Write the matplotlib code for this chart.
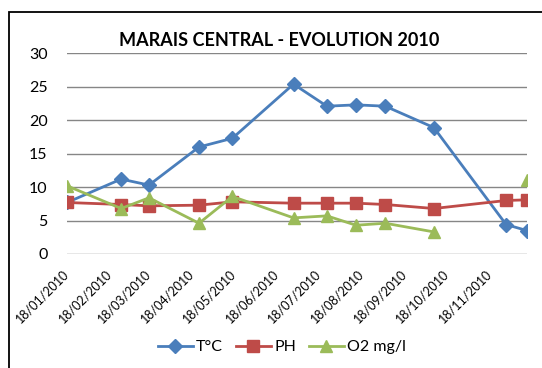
import numpy as np
import matplotlib
matplotlib.use("Agg")
import matplotlib.pyplot as plt
import matplotlib.dates as mdates
import matplotlib.transforms as mtransforms
from matplotlib.patches import Rectangle
from datetime import datetime

plt.rcParams['font.family'] = ['Lato', 'DejaVu Sans']

# Relevés du marais central (2010)
dates = ["18/01/2010", "26/02/2010", "18/03/2010", "23/04/2010", "17/05/2010", "30/06/2010",
         "24/07/2010", "14/08/2010", "04/09/2010", "09/10/2010", "30/11/2010", "15/12/2010"]
temp = [7.7, 11.2, 10.3, 16.0, 17.3, 25.4, 22.1, 22.3, 22.1, 18.9, 4.4, 3.5]
ph = [7.7, 7.4, 7.2, 7.3, 7.8, 7.6, 7.6, 7.6, 7.4, 6.8, 8.0, 8.1]
o2 = [10.2, 6.8, 8.4, 4.6, 8.6, 5.4, 5.7, 4.3, 4.6, 3.3, np.nan, 11.0]

tick_dates = ["18/01/2010", "18/02/2010", "18/03/2010", "18/04/2010", "18/05/2010", "18/06/2010",
              "18/07/2010", "18/08/2010", "18/09/2010", "18/10/2010", "18/11/2010"]

x = [datetime.strptime(d, "%d/%m/%Y") for d in dates]
xt = [datetime.strptime(d, "%d/%m/%Y") for d in tick_dates]

fig = plt.figure(figsize=(5.42, 3.68), dpi=100)
ax = fig.add_axes([0.1236, 0.3098, 0.8487, 0.5452])

# cadre du graphique
fig.patches.append(Rectangle((8.5 / 542, -0.1), 1.2, 1.1 - 12 / 368, transform=fig.transFigure,
                             fill=False, edgecolor="black", linewidth=1.3))

ax.plot(x, temp, color="#4A7EBB", linewidth=2, marker="D", markersize=6.8, label="T°C")
ax.plot(x, ph, color="#BE4B48", linewidth=2, marker="s", markersize=8, label="PH")
ax.plot(x, o2, color="#9BBB59", linewidth=2, marker="^", markersize=9, label="O2 mg/l")

ax.set_ylim(0, 30)
ax.set_yticks(range(0, 31, 5))
ax.set_xlim(x[0], x[-1])
ax.set_xticks(xt)
ax.xaxis.set_major_formatter(mdates.DateFormatter("%d/%m/%Y"))
shift = mtransforms.ScaledTranslation(5 / 72, 0, fig.dpi_scale_trans)
for lab in ax.get_xticklabels():
    lab.set_rotation(45)
    lab.set_ha("right")
    lab.set_va("center")
    lab.set_rotation_mode("anchor")
    lab.set_transform(lab.get_transform() + shift)

ax.grid(axis="y", color="#868686", linewidth=1)
ax.set_axisbelow(True)
for s in ax.spines.values():
    s.set_visible(False)
ax.tick_params(axis="y", length=0, pad=14, labelsize=11.5)
ax.tick_params(axis="x", length=0, pad=13, labelsize=9)

fig.text(0.515, 0.89, "MARAIS CENTRAL - EVOLUTION 2010", ha="center", va="center",
         fontsize=13, fontweight="bold")

fig.legend(loc="center", bbox_to_anchor=(0.52, 0.057), ncol=3, frameon=False,
           fontsize=11.5, handlelength=2.2, columnspacing=0.8, handletextpad=0.2)

fig.savefig("out.png", dpi=100)
